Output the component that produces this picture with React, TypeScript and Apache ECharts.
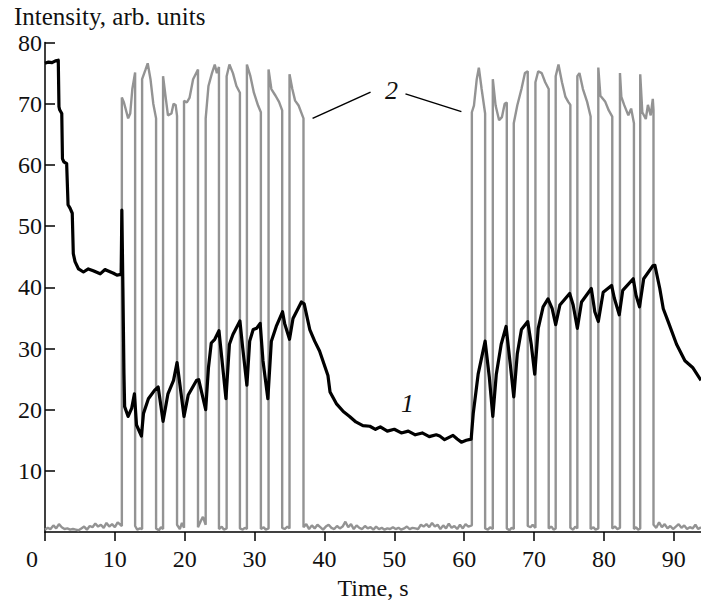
import React, { useEffect, useRef } from 'react';
import * as echarts from 'echarts';

const xTickValues = [0, 10, 20, 30, 40, 50, 60, 70, 80, 90];
const xLabelValues = [10, 20, 30, 40, 50, 60, 70, 80, 90];
const yTickValues = [10, 20, 30, 40, 50, 60, 70, 80];

// Curve 1 (black)
const curve1: number[][] = [
  [0, 76.6], [0.5, 76.8], [1.0, 76.7], [1.5, 77.0], [1.9, 77.1], [2.0, 69.5], [2.1, 69.0], [2.4, 68.4],
  [2.5, 61.0], [2.7, 60.5], [3.1, 60.2], [3.3, 53.5], [3.6, 52.9], [3.9, 52.1], [4.05, 45.5], [4.3, 44.2],
  [4.8, 43.0], [5.5, 42.5], [6.2, 43.0], [6.9, 42.7], [7.9, 42.2], [8.6, 42.9], [8.8, 42.8], [9.8, 42.3],
  [10.3, 42.0], [10.9, 42.1], [11.0, 52.6], [11.15, 40], [11.3, 26], [11.4, 20.5], [11.9, 18.9], [12.4, 20.2],
  [12.8, 22.6], [13.1, 17.5], [13.8, 15.7], [14.1, 19.4], [14.8, 21.8], [15.7, 23.2], [16.2, 23.7], [16.9, 18.1],
  [17.6, 22.6], [18.4, 24.8], [18.9, 27.7], [19.3, 24.2], [19.9, 18.9], [20.5, 22.4], [21.7, 24.8], [22.0, 24.9],
  [23.0, 20.0], [23.4, 26.9], [23.8, 30.9], [24.3, 31.5], [24.9, 32.9], [25.3, 28.5], [25.9, 21.8], [26.4, 30.7],
  [26.9, 32.3], [27.9, 34.5], [28.3, 30.1], [28.9, 24.0], [29.3, 31.2], [29.8, 33.1], [30.3, 33.3], [30.8, 34.1],
  [31.2, 28.0], [31.9, 21.8], [32.4, 31.2], [33.1, 33.6], [34.0, 36.0], [34.3, 34.1], [35.0, 31.5], [35.5, 34.9],
  [36.7, 37.6], [37.1, 37.3], [37.9, 33.1], [38.6, 31.2], [39.3, 29.6], [40.5, 25.6], [40.8, 22.9], [41.7, 21.0],
  [42.7, 19.7], [43.6, 18.9], [44.5, 18.0], [45.5, 17.4], [46.5, 17.3], [47.3, 16.8], [48.0, 17.2], [49.0, 16.5],
  [50.0, 16.8], [51.0, 16.2], [52.0, 16.5], [53.0, 15.9], [54.0, 16.2], [55.0, 15.6], [56.0, 15.9], [56.5, 15.7],
  [57.2, 15.1], [58.4, 15.8], [59.0, 15.2], [59.6, 14.7], [60.3, 15.0], [61.0, 15.2], [61.3, 19.4], [62.0, 25.8],
  [63.0, 31.2], [63.6, 25.3], [64.1, 18.9], [64.6, 25.8], [65.3, 30.7], [66.0, 33.6], [66.6, 27.4], [67.1, 22.1],
  [67.6, 29.1], [68.2, 33.1], [69.1, 34.4], [69.6, 30.7], [70.1, 25.8], [70.6, 33.3], [71.3, 36.8], [72.0, 38.1],
  [72.6, 36.5], [73.1, 33.9], [73.7, 37.1], [75.1, 39.0], [75.6, 37.1], [76.2, 33.3], [76.8, 37.6], [78.2, 39.8],
  [78.7, 36.0], [79.2, 34.4], [79.9, 39.2], [81.1, 40.3], [81.5, 38.2], [82.2, 35.5], [82.7, 39.5], [84.2, 41.4],
  [84.6, 38.7], [85.1, 36.8], [85.7, 41.4], [87.0, 43.5], [87.3, 43.6], [88.0, 39.8], [88.5, 36.5], [89.2, 34.4],
  [90.4, 30.7], [91.6, 28.0], [92.7, 26.9], [93.9, 24.8],
];

// Curve 2 (grey) — rest before first train
const curve2RestA: number[][] = [
  [0, 0.4], [0.4, 0.7], [0.8, 0.5], [1.2, 1.1], [1.6, 0.6], [2.0, 1.3], [2.4, 0.8], [2.8, 0.5], [3.2, 0.6],
  [3.6, 0.4], [4.0, 0.5], [4.4, 0.4], [4.8, 0.3], [5.2, 0.6], [5.6, 0.9], [6.0, 0.4], [6.4, 1.0], [6.8, 0.8],
  [7.2, 1.4], [7.6, 0.9], [8.0, 1.2], [8.4, 0.7], [8.8, 1.5], [9.2, 0.9], [9.6, 1.3], [10.0, 0.8], [10.4, 1.6],
  [10.8, 1.2], [11.0, 1.0],
];

// Curve 2 — first pulse train
const curve2TrainA: number[][] = [
  [11.0, 71.0], [11.3, 70.2], [11.9, 67.6], [12.2, 68.4], [12.5, 72.4], [12.9, 75.1],
  [12.9, 1.0], [13.2, 0.4], [13.6, 0.6], [13.9, 0.5],
  [13.9, 74.0], [14.4, 75.6], [14.7, 76.6], [15.1, 74.0], [15.5, 70.0], [15.9, 67.6],
  [15.9, 0.6], [16.3, 0.3], [16.6, 0.8], [16.9, 0.5],
  [16.9, 74.5], [17.3, 70.8], [17.6, 68.1], [18.1, 68.4], [18.4, 70.0], [18.7, 69.8], [18.9, 68.0],
  [18.9, 1.2], [19.3, 0.5], [19.6, 1.5], [19.9, 0.7],
  [19.9, 70.5], [20.3, 70.2], [20.7, 71.0], [21.2, 74.0], [21.9, 75.6],
  [21.9, 0.8], [22.3, 1.8], [22.6, 2.5], [23.0, 1.2],
  [23.0, 67.6], [23.4, 72.9], [23.9, 75.0], [24.3, 76.4], [24.6, 75.0], [24.9, 76.0],
  [24.9, 0.5], [25.3, 0.9], [25.6, 0.4], [26.0, 0.6],
  [26.0, 74.5], [26.4, 76.4], [26.9, 75.0], [27.4, 72.9], [27.9, 71.8],
  [27.9, 0.6], [28.3, 0.4], [28.6, 0.7], [28.9, 0.5],
  [28.9, 76.4], [29.4, 74.5], [29.9, 71.8], [30.5, 69.7], [30.9, 68.6],
  [30.9, 0.5], [31.3, 0.8], [31.6, 0.4], [32.0, 0.6],
  [32.0, 75.6], [32.4, 72.4], [33.0, 71.3], [33.5, 70.3], [33.95, 68.9],
  [33.95, 0.7], [34.3, 0.5], [34.7, 0.9], [35.0, 0.6],
  [35.0, 74.8], [35.4, 72.4], [35.8, 70.5], [36.3, 69.7], [37.0, 67.6],
  [37.0, 0.8],
];

// Curve 2 — rest between trains
const curve2RestB: number[][] = [
  [37.4, 1.3], [37.8, 0.5], [38.2, 1.1], [38.6, 0.6], [39.0, 1.2], [39.4, 0.8], [39.8, 0.4], [40.2, 0.9],
  [40.6, 1.2], [41.0, 0.7], [41.4, 0.5], [41.8, 1.0], [42.2, 0.6], [42.6, 0.9], [43.0, 1.7], [43.4, 0.8],
  [43.8, 1.3], [44.2, 0.5], [44.6, 1.1], [45.0, 0.7], [45.4, 0.5], [45.8, 1.0], [46.2, 0.6], [46.6, 0.8],
  [47.0, 0.4], [47.4, 0.9], [47.8, 0.5], [48.2, 0.7], [48.6, 0.4], [49.0, 0.6], [49.4, 0.5], [49.8, 0.8],
  [50.2, 0.5], [50.6, 0.7], [51.0, 0.4], [51.4, 0.6], [51.8, 0.9], [52.2, 0.5], [52.6, 0.7], [53.0, 0.6],
  [53.4, 0.5], [53.8, 1.2], [54.2, 0.9], [54.6, 1.3], [55.0, 0.8], [55.4, 1.5], [55.8, 0.9], [56.2, 1.2],
  [56.6, 0.5], [57.0, 1.1], [57.4, 0.6], [57.8, 1.4], [58.2, 0.7], [58.6, 1.0], [59.0, 0.5], [59.4, 1.2],
  [59.8, 0.6], [60.2, 1.3], [60.6, 0.9], [61.1, 1.1],
];

// Curve 2 — second pulse train
const curve2TrainB: number[][] = [
  [61.1, 68.6], [61.4, 69.7], [61.8, 74.0], [62.1, 75.9], [62.5, 72.4], [63.0, 68.4],
  [63.0, 0.6], [63.4, 0.4], [63.7, 0.8], [64.1, 0.5],
  [64.1, 74.0], [64.5, 69.7], [65.0, 67.3], [65.4, 67.8], [65.8, 70.0], [66.1, 70.2],
  [66.1, 0.6], [66.5, 0.3], [66.8, 0.7], [67.1, 0.5],
  [67.1, 66.8], [67.6, 69.7], [68.2, 72.4], [68.7, 75.0], [69.1, 75.3],
  [69.1, 1.0], [69.5, 0.8], [69.8, 1.2], [70.2, 0.7],
  [70.2, 73.5], [70.6, 75.3], [71.1, 75.0], [71.6, 73.5], [72.1, 72.4],
  [72.1, 0.6], [72.5, 0.9], [72.8, 0.4], [73.1, 0.6],
  [73.1, 74.5], [73.5, 76.4], [74.0, 73.5], [74.5, 71.1], [74.9, 70.3], [75.2, 69.8],
  [75.2, 0.7], [75.6, 0.4], [75.9, 0.9], [76.2, 0.6],
  [76.2, 74.5], [76.5, 75.0], [77.0, 72.4], [77.6, 70.3], [78.1, 67.9],
  [78.1, 0.5], [78.5, 0.8], [78.8, 0.4], [79.2, 0.6],
  [79.2, 75.9], [79.5, 71.3], [80.2, 70.3], [80.7, 68.9], [81.2, 67.9],
  [81.2, 0.6], [81.6, 0.9], [81.9, 0.5], [82.3, 0.7],
  [82.3, 75.0], [82.5, 71.1], [82.9, 69.8], [83.5, 68.1], [83.9, 69.2], [84.3, 66.8],
  [84.3, 0.5], [84.6, 0.8], [84.9, 0.4], [85.2, 0.6],
  [85.2, 74.8], [85.5, 68.6], [86.0, 67.5], [86.3, 69.8], [86.7, 68.1], [87.0, 70.8], [87.1, 69.0],
  [87.1, 1.2],
];

// Curve 2 — rest after second train
const curve2RestC: number[][] = [
  [87.5, 0.7], [87.9, 1.6], [88.3, 0.8], [88.7, 1.3], [89.1, 0.6], [89.5, 1.0], [89.9, 0.5], [90.3, 0.9],
  [90.7, 1.3], [91.1, 0.7], [91.5, 1.1], [91.9, 0.5], [92.3, 0.8], [92.7, 0.6], [93.1, 1.2], [93.5, 0.5],
  [93.9, 0.8],
];

// Annotation anchor points (data coordinates)
const label2Pos = [49.6, 72.1];
const leader2Left = [[38.3, 67.6], [46.6, 71.9]];
const leader2Right = [[51.6, 71.6], [59.6, 68.7]];
const label1Pos = [51.9, 21.0];

const FONT = '"Liberation Serif", "DejaVu Serif", serif';

export default function App() {
  const ref = useRef<HTMLDivElement>(null);
  useEffect(() => {
    const chart = echarts.init(ref.current!, null, { renderer: 'svg' });
    const curve2 = [...curve2RestA, ...curve2TrainA, ...curve2RestB, ...curve2TrainB, ...curve2RestC];
    chart.setOption({
      animation: false,
      grid: { left: 45, right: 0, top: 42.5, bottom: 64 },
      xAxis: {
        type: 'value', min: 0, max: 93.9, interval: 10,
        axisLine: { show: true, lineStyle: { color: '#000', width: 1.5 } },
        axisTick: { show: true, inside: false, length: 9, lineStyle: { color: '#000', width: 1.5 }, customValues: xTickValues },
        axisLabel: { customValues: xLabelValues, fontFamily: FONT, fontSize: 24, color: '#111', margin: 15,
          formatter: (v: number) => (v % 10 === 0 && v !== 0 ? String(v) : '') },
        splitLine: { show: false },
        name: 'Time, s', nameLocation: 'middle', nameGap: 39,
        nameTextStyle: { fontFamily: FONT, fontSize: 24, color: '#111' },
      },
      yAxis: {
        type: 'value', min: 0, max: 80, interval: 10,
        axisLine: { show: true, lineStyle: { color: '#000', width: 1.5 } },
        axisTick: { show: true, inside: true, length: 10, lineStyle: { color: '#000', width: 1.5 }, customValues: yTickValues },
        axisLabel: { customValues: yTickValues, fontFamily: FONT, fontSize: 24, color: '#111', margin: 3,
          formatter: (v: number) => (v === 0 ? '' : String(v)) },
        splitLine: { show: false },
      },
      series: [
        { type: 'line', data: curve2, showSymbol: false, symbol: 'none', z: 2,
          lineStyle: { color: '#939393', width: 2.4 } },
        { type: 'line', data: curve1, showSymbol: false, symbol: 'none', z: 3,
          lineStyle: { color: '#000', width: 3.2, join: 'round' } },
      ],
    });
    const px = (p: number[]) => chart.convertToPixel({ gridIndex: 0 }, p) as number[];
    const l2 = px(label2Pos);
    const l1 = px(label1Pos);
    const a1 = px(leader2Left[0]), a2 = px(leader2Left[1]);
    const b1 = px(leader2Right[0]), b2 = px(leader2Right[1]);
    const origin = px([0, 0]);
    chart.setOption({
      graphic: [
        { type: 'text', left: 14, top: 4, style: { text: 'Intensity, arb. units', font: `25px ${FONT}`, fill: '#111' } },
        { type: 'text', x: origin[0] - 13, y: origin[1] + 15, style: { text: '0', font: `24px ${FONT}`, fill: '#111', align: 'center', verticalAlign: 'top' } },
        { type: 'text', x: l2[0], y: l2[1], style: { text: '2', font: `italic 26px ${FONT}`, fill: '#111', align: 'center', verticalAlign: 'middle' } },
        { type: 'text', x: l1[0], y: l1[1], style: { text: '1', font: `italic 26px ${FONT}`, fill: '#111', align: 'center', verticalAlign: 'middle' } },
        { type: 'line', shape: { x1: a1[0], y1: a1[1], x2: a2[0], y2: a2[1] }, style: { stroke: '#000', lineWidth: 1.5 } },
        { type: 'line', shape: { x1: b1[0], y1: b1[1], x2: b2[0], y2: b2[1] }, style: { stroke: '#000', lineWidth: 1.5 } },
      ],
    });
    return () => chart.dispose();
  }, []);
  return <div ref={ref} style={{ position: 'absolute', left: 0, top: 0, width: 701, height: 605, background: '#fff' }} />;
}
